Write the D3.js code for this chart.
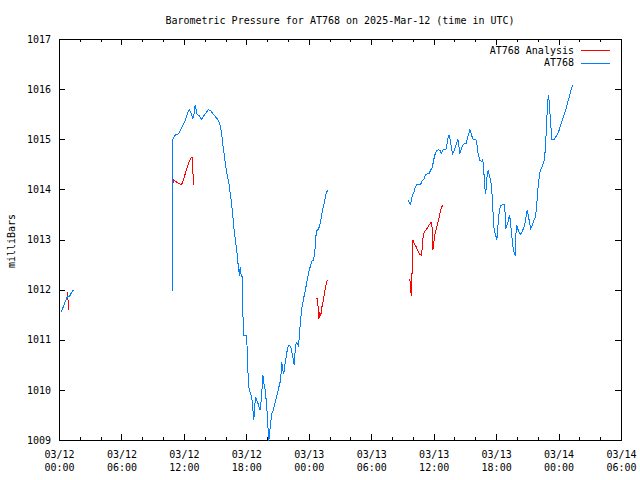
<!DOCTYPE html>
<html>
<head>
<meta charset="utf-8">
<script src="https://cdn.jsdelivr.net/npm/d3@7"></script>
<style>
  html, body { margin: 0; padding: 0; background: #fff; }
  svg { display: block; }
  text { font-family: "DejaVu Sans Mono", "Liberation Mono", monospace; font-size: 10px; fill: #000; }
</style>
</head>
<body>
<svg id="chart" width="640" height="480"></svg>
<script>
// ---------- DATA ----------
const titleText = "Barometric Pressure for AT768 on 2025-Mar-12 (time in UTC)";
const yAxisLabel = "milliBars";
const seriesNames = ["AT768 Analysis", "AT768"];
const seriesColors = ["#ff0000", "#0080ff"];
const startTime = "2025-03-12T00:00:00Z";
const spanHours = 54;
const xMajorTickHours = [0, 6, 12, 18, 24, 30, 36, 42, 48, 54];
const xMinorTickHours = [2, 4, 8, 10, 14, 16, 20, 22, 26, 28, 32, 34, 38, 40, 44, 46, 50, 52];
const yTicks = [1009, 1010, 1011, 1012, 1013, 1014, 1015, 1016, 1017];

// hours since 2025-03-12 00:00 UTC ; null separates gaps
const analysisHours = [0.72, 0.77, 0.82, 0.86, null,
  10.83, 10.84, 10.93, 11.15, 11.46, 11.72, 11.94, 12.18, 12.43, 12.66, 12.78, 12.81, 12.91, null,
  24.63, 24.79, 24.86, 24.92, 25.01, 25.11, 25.21, 25.34, 25.47, 25.59, 25.73, null,
  33.66, 33.73, 33.80, 33.86, 33.92, 33.95, 34.11, 34.28, 34.43, 34.60, 34.79, 34.88, 34.95, 35.07, 35.20,
  35.34, 35.49, 35.65, 35.78, 35.82, 35.87, 35.94, 36.03, 36.16, 36.30, 36.42, 36.55, 36.68, 36.80];
const analysisPressure = [1011.95, 1011.95, 1011.79, 1011.61, null,
  1013.65, 1013.95, 1014.20, 1014.17, 1014.13, 1014.10, 1014.22, 1014.39, 1014.55, 1014.64, 1014.64, 1014.37, 1014.09, null,
  1011.83, 1011.83, 1011.63, 1011.43, 1011.56, 1011.49, 1011.66, 1011.79, 1011.96, 1012.09, 1012.21, null,
  1012.23, 1012.06, 1011.89, 1012.26, 1012.62, 1013.00, 1012.92, 1012.86, 1012.79, 1012.72, 1012.70, 1012.92, 1013.09, 1013.16, 1013.20,
  1013.24, 1013.29, 1013.34, 1013.36, 1013.06, 1012.80, 1012.89, 1013.06, 1013.19, 1013.29, 1013.40, 1013.53, 1013.64, 1013.69];

const at768Hours = [0.19, 0.48, 0.67, 0.77, 0.96, 1.15, 1.35, null,
  10.82, 10.86, 10.89, 10.98, 11.15, 11.44, 11.63, 11.85, 12.11, 12.33,
  12.46, 12.66, 12.81, 12.91, 13.04, 13.14, 13.23, 13.42, 13.62, 13.81,
  14.06, 14.29, 14.51, 14.73, 14.99, 15.21, 15.40, 15.54, 15.63, 15.73,
  15.86, 15.98, 16.12, 16.27, 16.36, 16.50, 16.60, 16.75, 16.91, 17.08,
  17.20, 17.30, 17.36, 17.42, 17.56, 17.59, 17.65, 17.71, 17.97, 18.04,
  18.13, 18.23, 18.42, 18.55, 18.61, 18.67, 18.77, 18.86, 18.96, 19.09,
  19.19, 19.29, 19.38, 19.48, 19.54, 19.63, 19.77, 19.86, 19.96, 20.05,
  20.11, 20.21, 20.30, 20.40, 20.53, 20.66, 20.78, 20.92, 21.07, 21.24,
  21.36, 21.46, 21.55, 21.65, 21.75, 21.88, 22.01, 22.13, 22.27, 22.36,
  22.46, 22.55, 22.65, 22.75, 22.84, 22.94, 23.04, 23.13, 23.23, 23.32,
  23.42, 23.51, 23.61, 23.74, 23.86, 23.99, 24.12, 24.24, 24.38, 24.50,
  24.57, 24.63, 24.70, 24.82, 24.96, 25.08, 25.18, 25.30, 25.44, 25.53,
  25.66, 25.78, null,
  33.47, 33.63, 33.73, 33.83, 33.92, 34.05, 34.18, 34.31, 34.53, 34.76,
  34.85, 35.01, 35.17, 35.34, 35.49, 35.65, 35.82, 35.91, 36.01, 36.10,
  36.23, 36.42, 36.55, 36.68, 36.78, 36.87, 37.03, 37.16, 37.26, 37.35,
  37.41, 37.51, 37.60, 37.70, 37.79, 37.93, 38.05, 38.15, 38.28, 38.37,
  38.47, 38.56, 38.66, 38.79, 38.95, 39.08, 39.18, 39.27, 39.37, 39.43,
  39.56, 39.69, 39.81, 40.01, 40.10, 40.20, 40.29, 40.39,
  40.59, 40.68, 40.74, 40.81, 40.88, 40.94, 41.01, 41.10, 41.20, 41.29, 41.39, 41.48,
  41.58, 41.68, 41.77, 41.87, 41.96, 42.02, 42.09, 42.19, 42.28, 42.41, 42.57, 42.73,
  42.83, 42.89, 42.95, 43.05, 43.15, 43.24, 43.31, 43.41, 43.50, 43.60,
  43.70, 43.79, 43.85, 43.95, 44.04, 44.14, 44.27, 44.40, 44.52, 44.66,
  44.78, 44.88, 44.94, 45.04, 45.16, 45.26, 45.36, 45.45, 45.58, 45.71,
  45.84, 45.93, 46.03, 46.13, 46.22, 46.35, 46.48, 46.61, 46.70, 46.80,
  46.89, 46.99, 47.06, 47.15, 47.25, 47.31, 47.50, 47.66, 47.83, 47.95,
  48.08, 48.24, 48.40, 48.56, 48.72, 48.84, 48.98, 49.10, 49.23, 49.36];
const at768Pressure = [1011.57, 1011.73, 1011.83, 1011.87, 1011.87, 1011.95, 1012.01, null,
  1011.99, 1013.69, 1015.00, 1015.05, 1015.10, 1015.12, 1015.20, 1015.28, 1015.40, 1015.55,
  1015.60, 1015.52, 1015.42, 1015.50, 1015.70, 1015.58, 1015.50, 1015.48, 1015.40, 1015.46,
  1015.53, 1015.60, 1015.58, 1015.52, 1015.46, 1015.40, 1015.32, 1015.18, 1015.02, 1014.85,
  1014.65, 1014.45, 1014.29, 1014.15, 1013.99, 1013.79, 1013.59, 1013.26, 1012.99, 1012.69,
  1012.43, 1012.29, 1012.47, 1012.33, 1012.26, 1011.79, 1011.33, 1011.09, 1011.09, 1010.80,
  1010.26, 1010.00, 1009.90, 1009.76, 1009.53, 1009.40, 1009.73, 1009.86, 1009.80, 1009.73,
  1009.66, 1009.60, 1009.80, 1010.10, 1010.30, 1010.16, 1010.00, 1009.80, 1009.53, 1009.20,
  1008.98, 1009.20, 1009.37, 1009.53, 1009.60, 1009.70, 1009.80, 1009.93, 1010.06, 1010.20,
  1010.56, 1010.40, 1010.33, 1010.50, 1010.63, 1010.80, 1010.90, 1010.90, 1010.83, 1010.73,
  1010.63, 1010.50, 1010.80, 1010.96, 1010.93, 1010.90, 1011.03, 1011.33, 1011.53, 1011.69,
  1011.79, 1011.89, 1011.99, 1012.13, 1012.26, 1012.39, 1012.49, 1012.58, 1012.59, 1012.69,
  1012.86, 1013.06, 1013.18, 1013.20, 1013.26, 1013.36, 1013.49, 1013.62, 1013.73, 1013.85,
  1013.95, 1014.00, null,
  1013.80, 1013.75, 1013.71, 1013.82, 1013.91, 1013.95, 1014.05, 1014.10, 1014.11, 1014.12,
  1014.19, 1014.20, 1014.30, 1014.32, 1014.32, 1014.39, 1014.45, 1014.55, 1014.65, 1014.72,
  1014.79, 1014.80, 1014.79, 1014.72, 1014.77, 1014.80, 1014.80, 1014.82, 1014.95, 1015.05,
  1015.10, 1015.02, 1014.92, 1014.79, 1014.72, 1014.79, 1014.87, 1014.93, 1015.00, 1014.89,
  1014.72, 1014.79, 1014.84, 1014.91, 1014.92, 1014.92, 1015.02, 1015.10, 1015.15, 1015.20,
  1015.13, 1015.02, 1015.00, 1015.00, 1014.92, 1014.75, 1014.67, 1014.59,
  1014.57, 1014.60, 1014.45, 1014.25, 1014.02, 1013.91, 1014.05, 1014.32, 1014.40, 1014.29, 1014.22, 1014.12,
  1013.85, 1013.45, 1013.19, 1013.12, 1013.06, 1013.01, 1013.16, 1013.45, 1013.62, 1013.69, 1013.70, 1013.70,
  1013.52, 1013.22, 1013.29, 1013.32, 1013.42, 1013.49, 1013.40, 1013.19, 1012.99, 1012.82,
  1012.74, 1012.69, 1013.12, 1013.29, 1013.22, 1013.16, 1013.11, 1013.14, 1013.20, 1013.27,
  1013.39, 1013.55, 1013.60, 1013.49, 1013.36, 1013.22, 1013.26, 1013.31, 1013.39, 1013.45,
  1013.65, 1013.93, 1014.15, 1014.32, 1014.40, 1014.45, 1014.52, 1014.62, 1014.89, 1015.28,
  1015.72, 1015.90, 1015.72, 1015.45, 1015.18, 1015.00, 1015.00, 1015.05, 1015.10, 1015.15,
  1015.25, 1015.35, 1015.45, 1015.55, 1015.65, 1015.75, 1015.85, 1015.95, 1016.05, 1016.10];

// ---------- CHART ----------
const svg = d3.select("#chart");
const plotLeft = 59, plotRight = 621, plotTop = 39, plotBottom = 440;
const t0 = new Date(startTime);
const hToDate = h => new Date(t0.getTime() + h * 3600 * 1000);

const x = d3.scaleUtc().domain([t0, hToDate(spanHours)]).range([plotLeft, plotRight]);
const y = d3.scaleLinear().domain([yTicks[0], yTicks[yTicks.length - 1]]).range([plotBottom, plotTop]);

svg.append("defs").append("clipPath").attr("id", "plotclip")
  .append("rect").attr("x", plotLeft).attr("y", plotTop)
  .attr("width", plotRight - plotLeft + 1).attr("height", plotBottom - plotTop + 1);

const fmtDate = d3.utcFormat("%m/%d"), fmtTime = d3.utcFormat("%H:%M");

function styleAxis(g) {
  g.attr("font-family", null).attr("font-size", null);
  g.selectAll("path, line").attr("stroke", "#000").attr("shape-rendering", "crispEdges");
}

// bottom axis (major with labels)
const gB = svg.append("g").attr("transform", `translate(0,${plotBottom})`)
  .call(d3.axisBottom(x).tickValues(xMajorTickHours.map(hToDate)).tickSizeInner(-6).tickSizeOuter(0))
  .call(styleAxis);
gB.selectAll(".tick text").each(function(d) {
  const t = d3.select(this);
  t.text(null).attr("y", null).attr("dy", null);
  t.append("tspan").attr("x", 0).attr("y", 18).text(fmtDate(d));
  t.append("tspan").attr("x", 0).attr("y", 31).text(fmtTime(d));
});
svg.append("g").attr("transform", `translate(0,${plotBottom})`)
  .call(d3.axisBottom(x).tickValues(xMinorTickHours.map(hToDate)).tickSizeInner(-3).tickSizeOuter(0).tickFormat(""))
  .call(styleAxis);

// top axis (mirrored)
svg.append("g").attr("transform", `translate(0,${plotTop})`)
  .call(d3.axisTop(x).tickValues(xMajorTickHours.map(hToDate)).tickSizeInner(-6).tickSizeOuter(0).tickFormat(""))
  .call(styleAxis);
svg.append("g").attr("transform", `translate(0,${plotTop})`)
  .call(d3.axisTop(x).tickValues(xMinorTickHours.map(hToDate)).tickSizeInner(-3).tickSizeOuter(0).tickFormat(""))
  .call(styleAxis);

// left axis
svg.append("g").attr("transform", `translate(${plotLeft},0)`)
  .call(d3.axisLeft(y).tickValues(yTicks).tickSizeInner(-6).tickSizeOuter(0).tickPadding(8).tickFormat(d3.format("d")))
  .call(styleAxis);
// right axis (mirrored)
svg.append("g").attr("transform", `translate(${plotRight},0)`)
  .call(d3.axisRight(y).tickValues(yTicks).tickSizeInner(-6).tickSizeOuter(0).tickFormat(""))
  .call(styleAxis);

// title & y label
svg.append("text").attr("x", (plotLeft + plotRight) / 2).attr("y", 24).attr("text-anchor", "middle").text(titleText);
svg.append("text").attr("transform", "translate(15,241) rotate(-90)").attr("text-anchor", "middle").text(yAxisLabel);

// series
const line = d3.line()
  .defined(d => d.p != null)
  .x(d => x(hToDate(d.h)) + 0.5)
  .y(d => y(d.p) + 0.5);

const seriesData = [
  analysisHours.map((h, i) => ({ h, p: analysisPressure[i] })),
  at768Hours.map((h, i) => ({ h, p: at768Pressure[i] }))
];

const plot = svg.append("g").attr("clip-path", "url(#plotclip)");
seriesData.forEach((data, i) => {
  plot.append("path").datum(data)
    .attr("fill", "none")
    .attr("stroke", seriesColors[i])
    .attr("stroke-width", 1)
    .attr("shape-rendering", "crispEdges")
    .attr("d", line);
});

// legend
const legend = svg.append("g");
seriesNames.forEach((name, i) => {
  const ly = 50 + i * 12.5;
  legend.append("text").attr("x", 574).attr("y", ly + 3.5).attr("text-anchor", "end").text(name);
  legend.append("line").attr("x1", 581).attr("x2", 610)
    .attr("y1", Math.round(ly) + 0.5).attr("y2", Math.round(ly) + 0.5)
    .attr("stroke", seriesColors[i]).attr("stroke-width", 1).attr("shape-rendering", "crispEdges");
});
</script>
</body>
</html>
